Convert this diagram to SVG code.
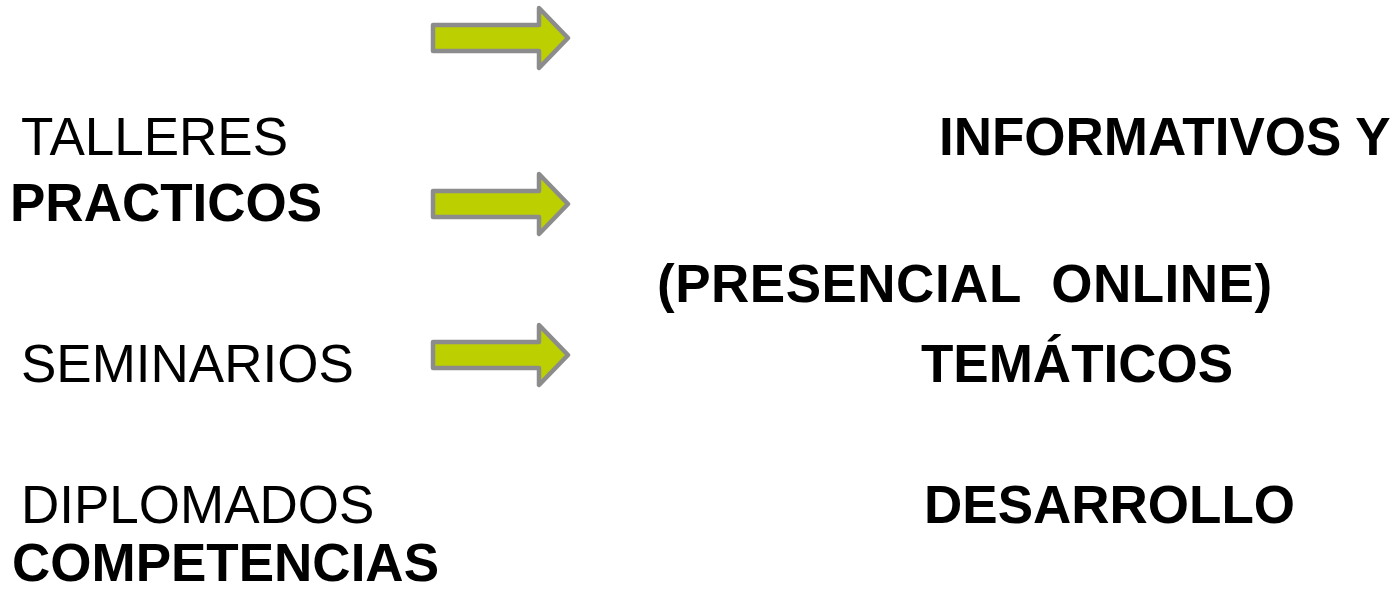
<svg xmlns="http://www.w3.org/2000/svg" width="1399" height="590" viewBox="0 0 1399 590">
<style>
.t{font-family:"Liberation Sans",Arial,sans-serif;font-size:53px;fill:#000;white-space:pre}
.b{font-weight:bold}
.arr{fill:#bccf00;stroke:#8c8c8c;stroke-width:4.5;stroke-linejoin:round}
</style>
<defs>
<path id="arrow" class="arr" d="M433,25 H539 V8 L568,38 L539,68 V51 H433 Z"/>
</defs>
<rect width="1399" height="590" fill="#fff"/>
<g id="arrows">
<use href="#arrow"/>
<use href="#arrow" transform="translate(0,166)"/>
<use href="#arrow" transform="translate(0,317)"/>
</g>
<g id="talleres"><text class="t" x="21" y="155">TALLERES</text></g>
<g id="informativos"><text class="t b" x="939" y="155">INFORMATIVOS Y</text></g>
<g id="practicos"><text class="t b" x="10" y="221">PRACTICOS</text></g>
<g id="presencial"><text class="t b" x="657" y="302" letter-spacing="0.5" xml:space="preserve">(PRESENCIAL  ONLINE)</text></g>
<g id="seminarios"><text class="t" x="21" y="382">SEMINARIOS</text></g>
<g id="tematicos"><text class="t b" x="921" y="382">TEMÁTICOS</text></g>
<g id="diplomados"><text class="t" x="21" y="523">DIPLOMADOS</text></g>
<g id="desarrollo"><text class="t b" x="924" y="523">DESARROLLO</text></g>
<g id="competencias"><text class="t b" x="12" y="581">COMPETENCIAS</text></g>
</svg>
